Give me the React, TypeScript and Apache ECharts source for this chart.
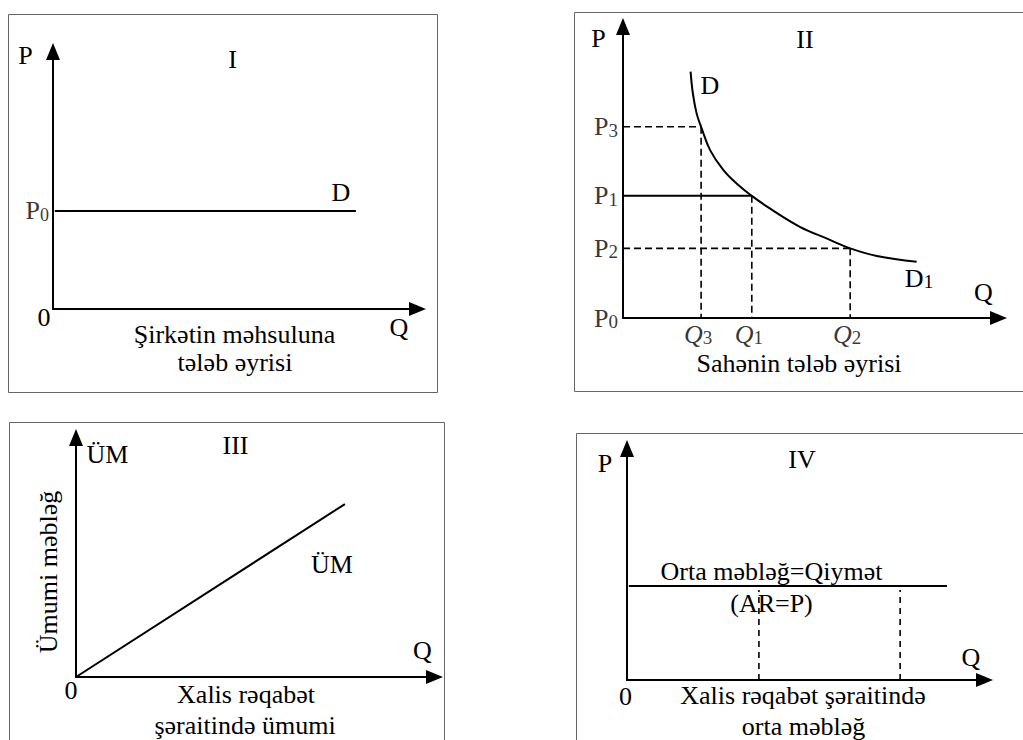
import React, { useEffect, useRef } from 'react';
import * as echarts from 'echarts';

const FONT = '"Liberation Serif", "Times New Roman", serif';

// Panel I – firm demand (horizontal at P0)
const firmPrice = 38.1;
const firmDemandQ = [0.5, 83.1];

// Panel II – industry demand curve
const industryQ = [18.0, 18.6, 19.6, 20.8, 23.2, 26.7, 30.7, 34.3, 39.1, 47.1, 54.2, 60.5, 67.6, 78.2];
const industryP = [84.5, 77.1, 70.2, 65.6, 57.6, 50.8, 45.6, 41.9, 37.6, 31.3, 27.3, 23.9, 21.3, 19.3];
const levelSubs = ['3', '1', '2'];
const levelP = [65.6, 41.9, 23.9];
const levelQ = [20.8, 34.3, 60.5];
const levelSolid = [false, true, false];

// Panel III – total revenue line
const trQ = [0, 75.0];
const trValue = [0, 72.2];

// Panel IV – average revenue = price
const arQ = [0.5, 89.5];
const arPrice = 40.6;
const arMarks = [36.9, 76.4];
const arMarkTop = 38.9;

const grids = [
  { left: 53, top: 51.5, width: 364.5, height: 257.5 },
  { left: 623, top: 26.5, width: 375.5, height: 291.5 },
  { left: 76, top: 437.5, width: 358.5, height: 239.5 },
  { left: 627, top: 448.5, width: 357.5, height: 231.5 },
];

const axis = (gridIndex: number) => ({
  gridIndex,
  type: 'value',
  min: 0,
  max: 100,
  axisLine: {
    show: true,
    onZero: false,
    symbol: ['none', 'triangle'],
    symbolSize: [14, 17],
    lineStyle: { color: '#000', width: 2 },
  },
  axisTick: { show: false },
  axisLabel: { show: false },
  splitLine: { show: false },
});

const subRich = (subSize: number, italic: boolean) => ({
  b: { fontSize: 26, fontFamily: FONT, color: '#000', lineHeight: 26, fontStyle: italic ? 'italic' : 'normal' },
  s: { fontSize: subSize, fontFamily: FONT, color: '#000', lineHeight: 12, verticalAlign: 'bottom' },
});

const subFmt = (p: any) => `{b|${p.data.base}}{s|${p.data.sub}}`;

const txt = (text: string, x: number, y: number, extra: any = {}) => ({
  type: 'text',
  x,
  y,
  silent: true,
  rotation: extra.rotation || 0,
  style: {
    text,
    fontSize: extra.fontSize || 26,
    fontFamily: FONT,
    fill: '#000',
    align: 'center',
    verticalAlign: 'middle',
    rich: extra.rich,
  },
});

const box = (x: number, y: number, w: number, h: number) => ({
  type: 'rect',
  silent: true,
  shape: { x, y, width: w, height: h },
  style: { fill: 'none', stroke: '#666', lineWidth: 1 },
});

export default function App() {
  const ref = useRef<HTMLDivElement>(null);
  useEffect(() => {
    if (!ref.current) return;
    const chart = echarts.init(ref.current, null, { renderer: 'svg' });
    const solid = { color: '#000', width: 2 };
    const dashed = { color: '#000', width: 1.6, type: [7, 4] };
    const series: any[] = [];

    // Panel I
    series.push({
      type: 'line', xAxisIndex: 0, yAxisIndex: 0, silent: true, symbol: 'none',
      data: firmDemandQ.map((q) => [q, firmPrice]), lineStyle: solid,
    });
    series.push({
      type: 'scatter', xAxisIndex: 0, yAxisIndex: 0, silent: true, symbolSize: 0,
      data: [{ value: [0, firmPrice], base: 'P', sub: '0' }],
      label: { show: true, position: 'left', distance: 4, formatter: subFmt, rich: subRich(18, false) },
    });

    // Panel II
    series.push({
      type: 'line', xAxisIndex: 1, yAxisIndex: 1, silent: true, symbol: 'none', smooth: 0.4,
      data: industryQ.map((q, i) => [q, industryP[i]]), lineStyle: solid,
    });
    levelP.forEach((p, i) => {
      series.push({
        type: 'line', xAxisIndex: 1, yAxisIndex: 1, silent: true, symbol: 'none',
        data: [[0, p], [levelQ[i], p]], lineStyle: levelSolid[i] ? solid : dashed, z: 1,
      });
      series.push({
        type: 'line', xAxisIndex: 1, yAxisIndex: 1, silent: true, symbol: 'none',
        data: [[levelQ[i], p], [levelQ[i], 0]], lineStyle: dashed, z: 1,
      });
    });
    series.push({
      type: 'scatter', xAxisIndex: 1, yAxisIndex: 1, silent: true, symbolSize: 0,
      data: [
        ...levelP.map((p, i) => ({ value: [0, p], base: 'P', sub: levelSubs[i] })),
        { value: [0, 0], base: 'P', sub: '0' },
      ],
      label: { show: true, position: 'left', distance: 5, formatter: subFmt, rich: subRich(19, false) },
    });
    series.push({
      type: 'scatter', xAxisIndex: 1, yAxisIndex: 1, silent: true, symbolSize: 0,
      data: levelQ.map((q, i) => ({ value: [q, 0], base: 'Q', sub: levelSubs[i] })),
      label: { show: true, position: 'bottom', distance: 3, offset: [-3, 0], formatter: subFmt, rich: subRich(19, true) },
    });

    // Panel III
    series.push({
      type: 'line', xAxisIndex: 2, yAxisIndex: 2, silent: true, symbol: 'none',
      data: trQ.map((q, i) => [q, trValue[i]]), lineStyle: solid,
    });

    // Panel IV
    series.push({
      type: 'line', xAxisIndex: 3, yAxisIndex: 3, silent: true, symbol: 'none',
      data: arQ.map((q) => [q, arPrice]), lineStyle: solid,
    });
    arMarks.forEach((q) => {
      series.push({
        type: 'line', xAxisIndex: 3, yAxisIndex: 3, silent: true, symbol: 'none', z: 5,
        data: [[q, 0], [q, arMarkTop]], lineStyle: { color: '#000', width: 1.6, type: [6, 5] },
      });
    });

    const dRich = {
      a: { fontSize: 26, fontFamily: FONT, color: '#000', lineHeight: 26 },
      s: { fontSize: 19, fontFamily: FONT, color: '#000', lineHeight: 12, verticalAlign: 'bottom' },
    };

    chart.setOption({
      animation: false,
      backgroundColor: '#fff',
      grid: grids.map((g) => ({ ...g, outerBoundsMode: 'none', containLabel: false })),
      xAxis: grids.map((_, i) => axis(i)),
      yAxis: grids.map((_, i) => axis(i)),
      series,
      graphic: {
        elements: [
          box(8.5, 14.5, 429, 378),
          box(574.5, 12.5, 460, 379),
          box(9.5, 422.5, 435, 330),
          box(576.5, 433.5, 460, 320),
          // Panel I
          txt('P', 25.5, 55),
          txt('I', 232.5, 59.5),
          txt('D', 341, 192),
          txt('0', 44, 317),
          txt('Q', 399, 327),
          txt('Şirkətin məhsuluna', 234.5, 334.5),
          txt('tələb əyrisi', 235, 362.5),
          // Panel II
          txt('P', 598.5, 38),
          txt('II', 805, 39.5),
          txt('D', 710, 85),
          txt('{a|D}{s|1}', 919, 278, { rich: dRich }),
          txt('Q', 983.5, 292),
          txt('Sahənin tələb əyrisi', 799, 363),
          // Panel III
          txt('ÜM', 107.5, 454.5),
          txt('III', 235.5, 445),
          txt('ÜM', 332, 564.5),
          txt('Q', 422.5, 650),
          txt('0', 71, 690),
          txt('Ümumi məbləğ', 48.5, 572, { rotation: Math.PI / 2 }),
          txt('Xalis rəqabət', 246, 694),
          txt('şəraitində ümumi', 245, 725),
          // Panel IV
          txt('P', 605, 463),
          txt('IV', 802, 459),
          txt('Orta məbləğ=Qiymət', 771.5, 571),
          txt('(AR=P)', 771.5, 603.5),
          txt('Q', 971, 657),
          txt('0', 625.5, 696),
          txt('Xalis rəqabət şəraitində', 803, 695.5),
          txt('orta məbləğ', 803.5, 726),
        ],
      },
    });
    return () => chart.dispose();
  }, []);
  return (
    <div
      ref={ref}
      style={{ position: 'fixed', left: 0, top: 0, width: 1023, height: 740, background: '#fff' }}
    />
  );
}
